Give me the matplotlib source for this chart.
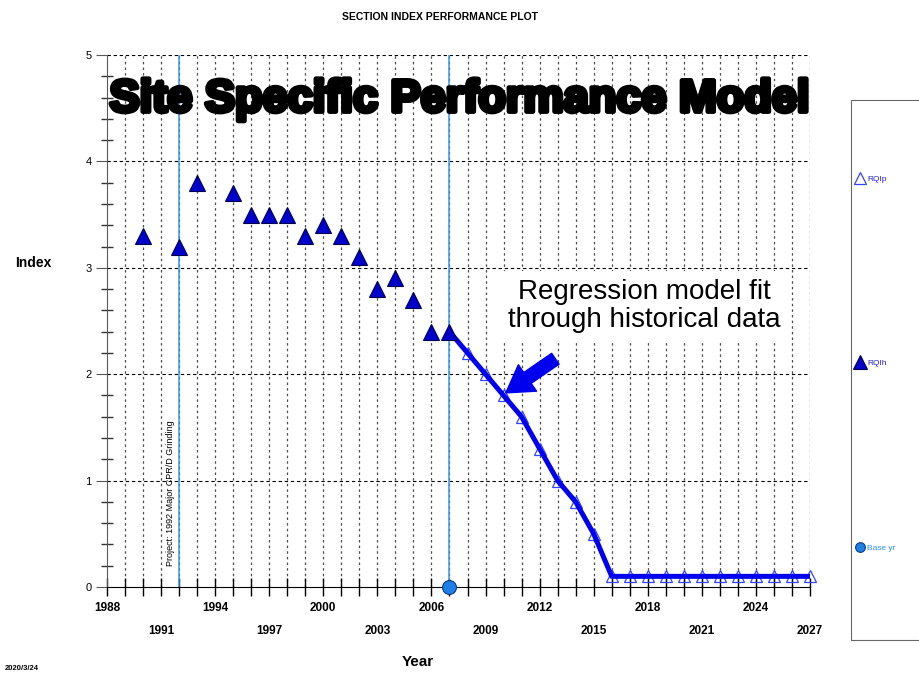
import matplotlib
matplotlib.use('Agg')
import matplotlib.pyplot as plt
import matplotlib.patheffects as pe
from matplotlib.lines import Line2D
from matplotlib.patches import Rectangle

# historical index values (RQIh)
hist_years = [1990, 1992, 1993, 1995, 1996, 1997, 1998, 1999, 2000, 2001,
              2002, 2003, 2004, 2005, 2006, 2007]
hist_vals = [3.3, 3.2, 3.8, 3.7, 3.5, 3.5, 3.5, 3.3, 3.4, 3.3,
             3.1, 2.8, 2.9, 2.7, 2.4, 2.4]

# regression model prediction (RQIp)
pred_years = list(range(2007, 2028))
pred_vals = [2.4, 2.2, 2.0, 1.8, 1.6, 1.3, 1.0, 0.8, 0.5, 0.1,
             0.1, 0.1, 0.1, 0.1, 0.1, 0.1, 0.1, 0.1, 0.1, 0.1, 0.1]

base_year = 2007
project_year = 1992
years = list(range(1988, 2028))
label_years = list(range(1988, 2028, 3))

plt.rcParams['font.family'] = ['Liberation Sans', 'DejaVu Sans']

fig = plt.figure(figsize=(9.2, 6.73), dpi=100)
ax = fig.add_axes([107/920, 86/673, 703/920, 532/673])
ax.set_xlim(1988, 2027)
ax.set_ylim(0, 5)

# grid
for yr in years[1:]:
    ax.axvline(yr, color='0.3', lw=0.9, ls=(0, (2, 2.5)), zorder=1)
for v in range(1, 6):
    ax.axhline(v, color='black', lw=0.8, ls=(0, (3, 2.5)), zorder=1)

# project and base year lines
ax.axvline(project_year, color='#3399ee', lw=1.1, zorder=2)
ax.axvline(base_year, color='#3399ee', lw=1.1, zorder=2)

ax.text(project_year - 0.45, 0.2, 'Project: 1992 Major CPR/D Grinding',
        rotation=90, fontsize=6.5, ha='center', va='bottom', zorder=3)

# prediction line + markers
ax.plot(pred_years, pred_vals, ls='none', marker='^', markersize=8,
        markerfacecolor='none', markeredgecolor='#3344ff', mew=0.9,
        zorder=4, clip_on=False)
ax.plot(pred_years, pred_vals, color='#0000ee', lw=3.6, zorder=5,
        solid_capstyle='butt', clip_on=False)

# historical points
ax.plot(hist_years, hist_vals, ls='none', marker='^', markersize=11,
        markerfacecolor='#0000cc', markeredgecolor='#000050', mew=0.8,
        zorder=6)

# base year marker
ax.plot([base_year], [0], ls='none', marker='o', markersize=10,
        markerfacecolor='#1f7fe6', markeredgecolor='#0a3a80', mew=0.8,
        zorder=7, clip_on=False)

# annotation
ax.text(2017.8, 2.64, 'Regression model fit\nthrough historical data',
        fontsize=20, ha='center', va='center', linespacing=1.1, zorder=8,
        bbox=dict(facecolor='white', edgecolor='none', pad=6))
ax.annotate('', xy=(2010.0, 1.81), xytext=(2013.0, 2.16),
            arrowprops=dict(arrowstyle='simple,head_width=1.1,head_length=0.9,tail_width=0.45',
                            color='#0000ee', mutation_scale=21), zorder=8)

# axes styling
for s in ['top', 'right']:
    ax.spines[s].set_visible(False)
ax.spines['left'].set_color('0.35')
ax.spines['bottom'].set_color('black')

ax.set_yticks(range(0, 6))
ax.set_yticks([i / 5 for i in range(26)], minor=True)
ax.tick_params(axis='y', which='major', direction='out', length=8,
               color='0.35', labelsize=8, pad=3)
ax.tick_params(axis='y', which='minor', direction='inout', length=8,
               color='0.2', width=1)

ax.set_xticks(label_years)
ax.set_xticklabels([str(y) if i % 2 == 0 else '\n' + str(y)
                    for i, y in enumerate(label_years)])
ax.set_xticks(years, minor=True)
ax.tick_params(axis='x', which='both', direction='inout', length=13,
               color='black', width=1)
ax.tick_params(axis='x', which='major', labelsize=8.5, pad=4)
for t in ax.get_xticklabels():
    t.set_fontweight('bold')
    t.set_linespacing(2.3)
    t.set_verticalalignment('top')

# titles and labels
fig.text(440/920, 1 - 17/673, 'SECTION INDEX PERFORMANCE PLOT', fontsize=7.5,
         fontweight='bold', ha='center', va='center')
fig.text(459/920, 1 - 100/673, 'Site Specific Performance Model',
         fontsize=32.5, fontweight='bold', ha='center', va='center', zorder=9,
         path_effects=[pe.withStroke(linewidth=3.5, foreground='black')])
fig.text(33/920, 1 - 263/673, 'Index', fontsize=10, fontweight='bold',
         ha='center', va='center')
fig.text(418/920, 1 - 662/673, 'Year', fontsize=11, fontweight='bold',
         ha='center', va='center')
fig.text(0.005, 0.001, '2020/3/24', fontsize=5.5, fontweight='bold',
         ha='left', va='bottom')

# legend box (runs off the right edge like the reference)
fig.add_artist(Rectangle((851/920, 1 - 640/673), 0.2, 540/673,
                         transform=fig.transFigure, fill=False,
                         edgecolor='0.4', lw=0.8))
handles = [
    Line2D([], [], ls='none', marker='^', markersize=9, markerfacecolor='none',
           markeredgecolor='#3344ff', mew=0.9),
    Line2D([], [], ls='none', marker='^', markersize=10, markerfacecolor='#0000cc',
           markeredgecolor='#000050', mew=0.8),
    Line2D([], [], ls='none', marker='o', markersize=7, markerfacecolor='#1f7fe6',
           markeredgecolor='#0a3a80', mew=0.8),
]
leg = fig.legend(handles, ['RQIp', 'RQIh', 'Base yr'], loc='upper left',
                 bbox_to_anchor=(855/920, 1 - 175/673), fontsize=6,
                 frameon=False, borderpad=0, labelspacing=21.2,
                 handlelength=1.2, handletextpad=0.3, borderaxespad=0)
for txt, c in zip(leg.get_texts(), ['#2222cc', '#2222cc', '#2b8cf0']):
    txt.set_color(c)

fig.savefig('out.png', dpi=100)
